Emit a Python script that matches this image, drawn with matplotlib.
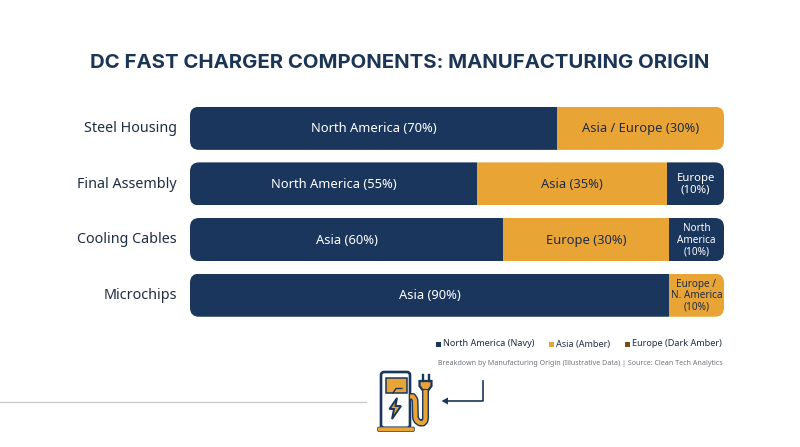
import matplotlib
matplotlib.use('Agg')
import matplotlib.pyplot as plt
from matplotlib.patches import FancyBboxPatch, Rectangle, Polygon
from matplotlib.lines import Line2D

NAVY = '#1a365d'
AMBER = '#e9a436'
DARK_AMBER = '#7a4f14'
INK = '#1f2d42'

plt.rcParams['font.family'] = ['Noto Sans', 'DejaVu Sans']

categories = ['Steel Housing', 'Final Assembly', 'Cooling Cables', 'Microchips']

# segment widths as drawn in the picture (they differ a little from the printed labels)
seg1 = [68.8, 53.7, 58.7, 89.7]
seg2 = [31.2, 35.7, 31.0, 10.3]
seg3 = [0, 10.6, 10.3, 0]

seg1_labels = ['North America (70%)', 'North America (55%)', 'Asia (60%)', 'Asia (90%)']
seg2_labels = ['Asia / Europe (30%)', 'Asia (35%)', 'Europe (30%)', 'Europe /\nN. America\n(10%)']
seg3_labels = ['', 'Europe\n(10%)', 'North\nAmerica\n(10%)', '']

seg1_colors = [NAVY, NAVY, NAVY, NAVY]
seg2_colors = [AMBER, AMBER, AMBER, AMBER]
seg3_colors = [NAVY, NAVY, NAVY, NAVY]

legend_labels = ['North America (Navy)', 'Asia (Amber)', 'Europe (Dark Amber)']
legend_colors = [NAVY, AMBER, DARK_AMBER]
legend_x = [436, 549, 625]

W, H = 800, 447
fig = plt.figure(figsize=(8, 4.47), dpi=100, facecolor='white')

# overlay in pixel coordinates for title, legend and the icon
bg = fig.add_axes([0, 0, 1, 1])
bg.set_xlim(0, W)
bg.set_ylim(H, 0)
bg.axis('off')

left, right, top, bottom = 190, 724, 100.5, 323
ax = fig.add_axes([left / W, 1 - bottom / H, (right - left) / W, (bottom - top) / H])
ax.set_xlim(0, 100)
ax.set_ylim(len(categories) - 0.5, -0.5)
ax.axis('off')

bar_h = 0.775
px_x = (right - left) / 100
px_y = (bottom - top) / len(categories)
for i, name in enumerate(categories):
    clip = FancyBboxPatch((0, i - bar_h / 2), 100, bar_h,
                          boxstyle='round,pad=0,rounding_size=1.7',
                          mutation_aspect=px_x / px_y,
                          transform=ax.transData, fc='none', ec='none')
    ax.add_patch(clip)
    b1 = ax.barh(i, seg1[i], height=bar_h, color=seg1_colors[i])
    b2 = ax.barh(i, seg2[i], left=seg1[i], height=bar_h, color=seg2_colors[i])
    b3 = ax.barh(i, seg3[i], left=seg1[i] + seg2[i], height=bar_h, color=seg3_colors[i])
    for b in (b1, b2, b3):
        b[0].set_clip_path(clip)

    ax.text(seg1[i] / 2, i + 0.01, seg1_labels[i], color='white', ha='center', va='center', fontsize=9.3)
    lines = seg2_labels[i].count('\n')
    ax.text(seg1[i] + seg2[i] / 2, i + 0.01, seg2_labels[i], color=INK, ha='center', va='center',
            fontsize=7.2 if lines else 9.3, linespacing=1.05)
    if seg3[i]:
        small = seg3_labels[i].count('\n') > 1
        ax.text(seg1[i] + seg2[i] + seg3[i] / 2, i + 0.01, seg3_labels[i], color='white',
                ha='center', va='center', fontsize=7.2 if small else 8.2, linespacing=1.05)
    bg.text(177, 128.5 + i * px_y, name, ha='right', va='center', fontsize=10.3, color=INK)

bg.text(400, 62.5, 'DC FAST CHARGER COMPONENTS: MANUFACTURING ORIGIN', ha='center', va='center',
        fontsize=14.65, fontweight='bold', color='#1b3557', family=['Inter', 'DejaVu Sans'])

for x0, lab, col in zip(legend_x, legend_labels, legend_colors):
    bg.add_patch(Rectangle((x0, 341.5), 5, 5, fc=col, ec='none'))
    bg.text(x0 + 7, 344, lab, fontsize=6.55, va='center', color=INK)

bg.text(723, 363.5, 'Breakdown by Manufacturing Origin (Illustrative Data) | Source: Clean Tech Analytics',
        ha='right', va='center', fontsize=5.1, color='#6f747b')

# footer rule and arrow
bg.add_line(Line2D([0, 366], [401.5, 401.5], color='#c8c8c8', lw=0.9))
bg.add_line(Line2D([483, 483, 446], [381, 401, 401], color=NAVY, lw=1.2))
bg.add_patch(Polygon([[441.5, 401], [448, 397.5], [448, 404.5]], fc=NAVY, ec='none'))

# charger icon
bg.add_patch(FancyBboxPatch((381, 372), 29, 56, boxstyle='round,pad=0,rounding_size=3',
                            fc='white', ec=NAVY, lw=1.9))
bg.add_patch(Rectangle((385.5, 378), 21, 15, fc=AMBER, ec=NAVY, lw=1.1))
bg.add_line(Line2D([393, 396, 398, 402], [393, 388.5, 388.5, 388.5], color=NAVY, lw=1))
bg.add_patch(Polygon([[397, 398], [389.5, 409], [394, 409], [392, 419], [401, 406], [395.5, 406]],
                     fc=AMBER, ec=NAVY, lw=1.4))
bg.add_patch(FancyBboxPatch((377.5, 427), 37, 4.5, boxstyle='round,pad=0,rounding_size=1.5',
                            fc=AMBER, ec=NAVY, lw=0.5))
cx = [410, 413, 415, 415.5, 417, 420, 423, 425, 425.5, 425.5]
cy = [396.5, 396.5, 400, 418, 421, 423, 423, 421, 418, 390]
bg.add_line(Line2D(cx, cy, color=NAVY, lw=5, solid_capstyle='butt', solid_joinstyle='round'))
bg.add_line(Line2D(cx, cy, color=AMBER, lw=3, solid_capstyle='butt', solid_joinstyle='round'))
bg.add_patch(Polygon([[419.5, 381], [431.5, 381], [431.5, 386], [428.5, 390], [422.5, 390], [419.5, 386]],
                     fc=AMBER, ec=NAVY, lw=1.6))
bg.add_line(Line2D([422.5, 422.5], [375, 381], color=NAVY, lw=1.7))
bg.add_line(Line2D([428.5, 428.5], [375, 381], color=NAVY, lw=1.7))

fig.savefig('out.png', dpi=100, facecolor='white')
